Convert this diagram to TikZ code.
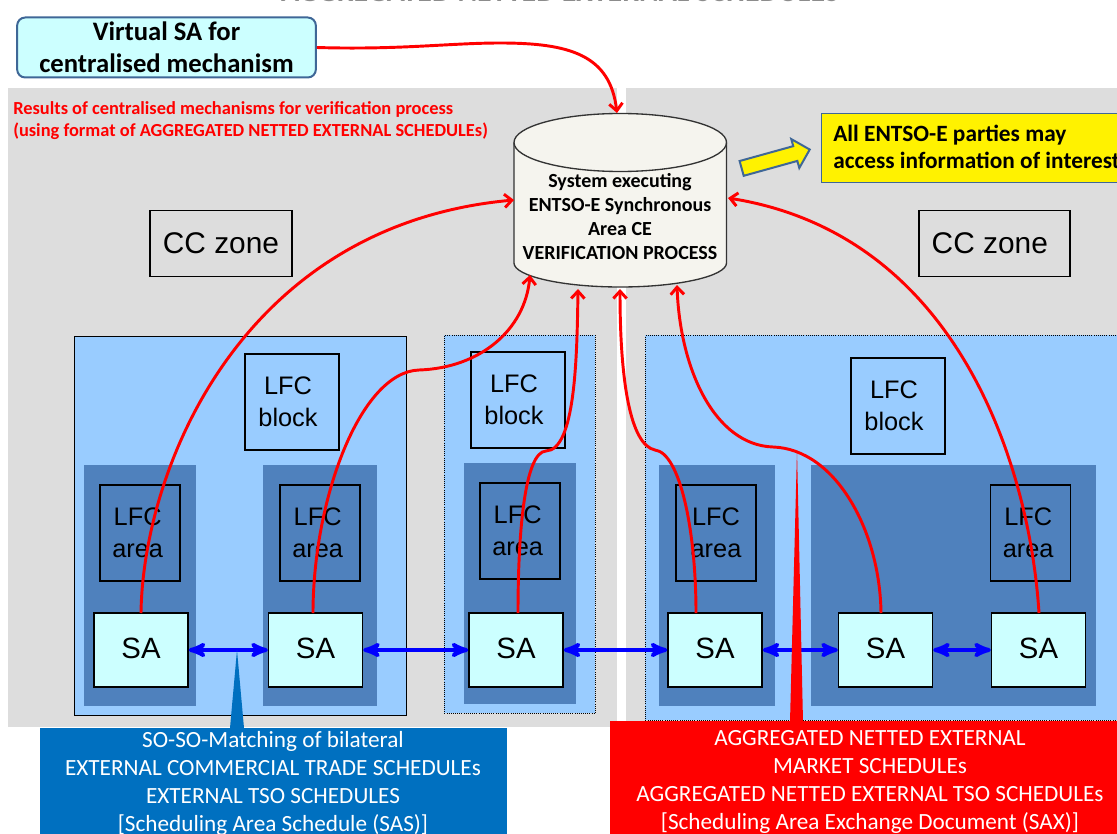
\documentclass[tikz,border=0pt]{standalone}
\usepackage{fontspec}
\setmainfont{Carlito}
\newfontfamily\arialfont{Liberation Sans}
\usetikzlibrary{arrows,arrows.meta,shapes.arrows}
\definecolor{panelgray}{HTML}{DDDDDD}
\definecolor{blocklight}{HTML}{99CCFF}
\definecolor{areadark}{HTML}{4F81BD}
\definecolor{sacyan}{HTML}{CCFFFF}
\definecolor{sobox}{HTML}{0070C0}
\definecolor{sysfill}{HTML}{F5F4EE}
\definecolor{outline}{HTML}{3F6797}
\newcommand{\blocktext}{LFC\hspace*{6pt}\\block\hspace*{6pt}}
\newcommand{\areatext}{LFC\hspace*{3.5pt}\\area\hspace*{3.5pt}}
\tikzset{
  panel/.style={fill=panelgray, anchor=north west, inner sep=0},
  blocksolid/.style={fill=blocklight, draw=black, line width=1pt, anchor=north west, inner sep=0},
  blockdots/.style={fill=blocklight, draw=black, densely dotted, line width=0.6pt, anchor=north west, inner sep=0},
  areabg/.style={fill=areadark, anchor=north west, inner sep=0},
  label/.style={draw=black, line width=0.8pt, align=center, font=\arialfont\fontsize{19}{24}\selectfont, minimum width=70.5pt, minimum height=72pt, inner sep=0},
  arealabel/.style={draw=black, line width=0.8pt, align=center, font=\arialfont\fontsize{19}{24}\selectfont, minimum width=60pt, minimum height=72pt, inner sep=0},
  sabox/.style={draw=black, line width=1pt, fill=sacyan, font=\arialfont\fontsize{22}{26}\selectfont, minimum width=70.5pt, minimum height=55.5pt, inner sep=0, text depth=3pt},
  cczone/.style={draw=black, line width=0.8pt, font=\arialfont\fontsize{22.4}{28}\selectfont, minimum height=50pt, inner sep=0},
  result/.style={->, >={Straight Barb[length=5.5pt,width=10pt]}, draw=red, line width=2.2pt},
  match/.style={<->, >=stealth', draw=blue, line width=3pt}
}
\begin{document}
\begin{tikzpicture}[x=0.75pt,y=-0.75pt]
  \useasboundingbox (0,0) rectangle (1117,834);
  \clip (0,0) rectangle (1117,834);

  % Title, cut by the page edge
  \node[anchor=base, inner sep=0, text=black!45, font=\bfseries\fontsize{22.4}{26}\selectfont] (title) at (560,1.5) {AGGREGATED NETTED EXTERNAL SCHEDULES};

  % Panels
  \node[panel, minimum width=456.75pt, minimum height=479.25pt] (ccleft) at (8,88) {};
  \node[panel, minimum width=368.25pt, minimum height=504pt] (ccright) at (626,88) {};

  % LFC blocks
  \node[blocksolid, minimum width=249pt, minimum height=284.25pt] (blockA) at (74,336) {};
  \node[blockdots, minimum width=113.25pt, minimum height=283.5pt] (blockB) at (444,335) {};
  \node[blockdots, minimum width=360pt, minimum height=288.75pt] (blockC) at (645,335) {};

  \node[areabg, minimum width=84pt, minimum height=180.75pt] (bgA) at (84,465) {};
  \node[areabg, minimum width=85.5pt, minimum height=180.75pt] (bgB) at (263,465) {};
  \node[areabg, minimum width=84pt, minimum height=180.75pt] (bgC) at (464,463) {};
  \node[areabg, minimum width=87pt, minimum height=180.75pt] (bgD) at (659,465) {};
  \node[areabg, minimum width=213.75pt, minimum height=180.75pt] (bgE) at (811,465) {};

  % Labels
  \node[cczone, minimum width=106.5pt] (ccA) at (221,243.5) {CC zone};
  \node[cczone, minimum width=113.25pt] (ccB) at (994.5,243.5) {CC zone\hspace*{7pt}};
  \node[label] (lfcA) at (292,402) {\blocktext};
  \node[label] (lfcB) at (518,400) {\blocktext};
  \node[label] (lfcC) at (898,406) {\blocktext};
  \node[arealabel] (areaA) at (140,533) {\areatext};
  \node[arealabel, line width=1.8pt] (areaB) at (320,533) {\areatext};
  \node[arealabel] (areaC) at (520,531) {\areatext};
  \node[arealabel] (areaD) at (716,533) {LFC\\area};
  \node[arealabel] (areaE) at (1030.5,533) {\areatext};

  % SA boxes
  \node[sabox] (sa1) at (141,650) {SA};
  \node[sabox] (sa2) at (315.5,650) {SA};
  \node[sabox] (sa3) at (516,650) {SA};
  \node[sabox] (sa4) at (715,650) {SA};
  \node[sabox] (sa5) at (885.5,650) {SA};
  \node[sabox] (sa6) at (1038.5,650) {SA};

  % System
  \filldraw[draw=black!80, line width=1pt, fill=sysfill] (514,142.5)
    .. controls (514,126.5) and (561.6,113.5) .. (620.25,113.5)
    .. controls (679,113.5) and (726.5,126.5) .. (726.5,142.5)
    -- (726.5,263)
    .. controls (726.5,276) and (679,287) .. (620.25,287)
    .. controls (561.6,287) and (514,276) .. (514,263) -- cycle;
  \draw[draw=black!80, line width=1pt] (514,142.5)
    .. controls (514,158.5) and (561.6,171.5) .. (620.25,171.5)
    .. controls (679,171.5) and (726.5,158.5) .. (726.5,142.5);
  \node[align=center, font=\fontsize{15}{18}\selectfont\bfseries] (sys) at (620,217) {System executing\\ENTSO-E Synchronous\\Area CE\\VERIFICATION PROCESS};

  % Other boxes
  \node[draw=outline, line width=1.5pt, fill=sacyan, rounded corners=6pt, minimum width=224pt, minimum height=45pt,
        align=center, inner sep=0, font=\fontsize{20}{24}\selectfont\bfseries] (virtual) at (166.5,47.5) {Virtual SA for\\centralised mechanism};
  \node[draw=outline, line width=0.8pt, fill=yellow, anchor=north west, minimum width=240pt, minimum height=52pt,
        inner sep=0] (info) at (821,113) {};
  \node[anchor=west, align=left, inner sep=0, font=\fontsize{17.5}{20.25}\selectfont\bfseries] (infotext) at (833,147) {All ENTSO-E parties may\\access information of interest};
  \node[anchor=north west, align=left, inner sep=0, text=red, font=\fontsize{13.8}{16.5}\selectfont\bfseries] (note) at (13,101) {Results of centralised mechanisms for verification process\\(using format of AGGREGATED NETTED EXTERNAL SCHEDULEs)};

  % Callouts
  \node[fill=sobox, anchor=north west, minimum width=350.25pt, minimum height=80pt, inner sep=0] (so) at (40,728) {};
  \node[align=center, text=white, font=\fontsize{17.4}{21}\selectfont] (sotext) at (273,783) {SO-SO-Matching of bilateral\\EXTERNAL COMMERCIAL TRADE SCHEDULEs\\EXTERNAL TSO SCHEDULES\\{[Scheduling Area Schedule (SAS)]}};
  \node[fill=red, anchor=north west, minimum width=380.25pt, minimum height=85pt, inner sep=0] (sax) at (610,721) {};
  \node[align=center, text=white, font=\fontsize{17.4}{21}\selectfont] (saxtext) at (870,781.5) {AGGREGATED NETTED EXTERNAL\\MARKET SCHEDULEs\\AGGREGATED NETTED EXTERNAL TSO SCHEDULEs\\{[Scheduling Area Exchange Document (SAX)]}};

  % Links between SA boxes
  \draw[match] (sa1) -- (sa2);
  \draw[match] (sa2) -- (sa3);
  \draw[match] (sa3) -- (sa4);
  \draw[match] (sa4) -- (sa5);
  \draw[match] (sa5) -- (sa6);

  % Wedges
  \coordinate (sotip) at (237,650);
  \coordinate (saxtip) at (797,450);
  \fill[sobox] (sotip) -- (244,728) -- (230,728) -- cycle;
  \fill[red] (saxtip) -- (803,722) -- (790,722) -- cycle;

  % Ends at the system
  \coordinate (inTop) at (617,113);
  \coordinate (inA) at (514,200);
  \coordinate (inB) at (530,275);
  \coordinate (inC) at (578,289);
  \coordinate (inD) at (620,289);
  \coordinate (inE) at (677,285);
  \coordinate (inF) at (728,198);
  \coordinate (startA) at (141,613);
  \coordinate (startB) at (313,613);
  \coordinate (startC) at (518,613);
  \coordinate (startD) at (696,613);
  \coordinate (startE) at (881,613);
  \coordinate (startF) at (1039,613);

  % Results
  \draw[result] (virtual.east) .. controls (400,50) and (450,43) .. (500,43) .. controls (570,43) and (610,55) .. (inTop);
  \draw[result] (startA) .. controls (143,470) and (240,225) .. (inA);
  \draw[result] (startB) .. controls (313,500) and (360,372) .. (419,370) .. controls (480,368) and (525,330) .. (inB);
  \draw[result] (startC) .. controls (518,530) and (525,452) .. (546,451) .. controls (575,450) and (577,360) .. (inC);
  \draw[result] (startD) .. controls (696,530) and (680,453) .. (655,450) .. controls (630,445) and (620,380) .. (inD);
  \draw[result] (startE) .. controls (880,530) and (835,449) .. (773,447) .. controls (715,445) and (680,370) .. (inE);
  \draw[result] (startF) .. controls (1030,470) and (960,235) .. (inF);

  % Access arrow
  \node[draw=outline, line width=1.5pt, fill=yellow, single arrow, single arrow head extend=5.5pt, single arrow tip angle=90,
        minimum width=21pt, minimum height=53pt, inner sep=5pt, rotate=15.5] (access) at (772,160) {};
\end{tikzpicture}
\end{document}
